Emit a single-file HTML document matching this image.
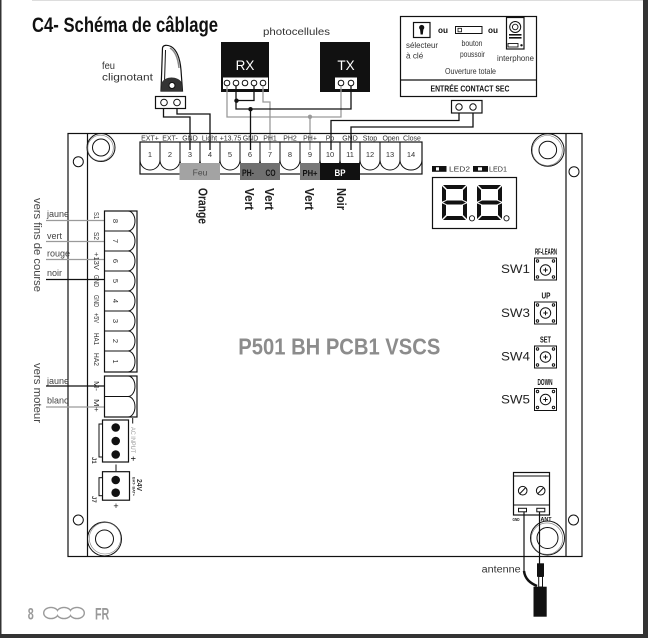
<!DOCTYPE html>
<html><head><meta charset="utf-8"><style>
html,body{margin:0;padding:0;background:#fff;}
svg{display:block;}
text{font-family:"Liberation Sans",sans-serif;}
</style></head><body>
<svg width="648" height="638" viewBox="0 0 648 638" xmlns="http://www.w3.org/2000/svg">
<rect width="648" height="638" fill="#fff"/>
<!-- frame -->
<line x1="32" y1="0.5" x2="643" y2="0.5" stroke="#ddd" stroke-width="1"/>
<rect x="0" y="0" width="1.5" height="638" fill="#333"/>
<rect x="643" y="0" width="5" height="638" fill="#333"/>
<rect x="0" y="634" width="648" height="4" fill="#333"/>

<!-- title -->
<text x="32" y="32" font-size="21" font-weight="bold" fill="#111" textLength="186" lengthAdjust="spacingAndGlyphs">C4- Schéma de câblage</text>

<!-- feu clignotant -->
<text x="102" y="69" font-size="10.5" fill="#333" textLength="13" lengthAdjust="spacingAndGlyphs">feu</text>
<text x="102" y="80.5" font-size="10.5" fill="#333" textLength="51" lengthAdjust="spacingAndGlyphs">clignotant</text>
<path d="M161,91 L162.5,48 C163,45 167,44.5 171,46.5 C177,50 180,58 181,70 L182.5,91 Z" fill="#fff" stroke="#111" stroke-width="1.2"/>
<path d="M165.5,50 L164.5,82" stroke="#111" stroke-width="1" fill="none"/>
<path d="M170,48 C175,51 178,58 179,68" stroke="#888" stroke-width="1.5" fill="none"/>
<path d="M162,82 C166,76 177,76 181.5,82 L182.5,91 L161,91 Z" fill="#333"/>
<circle cx="172" cy="85.5" r="3" fill="#fff" stroke="#111" stroke-width="1"/>
<rect x="155.5" y="96.5" width="30" height="12" fill="#fff" stroke="#111" stroke-width="1.2"/>
<circle cx="164" cy="102.5" r="3.3" fill="#fff" stroke="#111" stroke-width="1"/>
<circle cx="177" cy="102.5" r="3.3" fill="#fff" stroke="#111" stroke-width="1"/>

<!-- photocellules -->
<text x="296.5" y="35" font-size="10.5" fill="#333" text-anchor="middle" textLength="67" lengthAdjust="spacingAndGlyphs">photocellules</text>
<rect x="221" y="42" width="48" height="50" fill="#111"/>
<text x="245" y="70" font-size="13.5" fill="#fff" text-anchor="middle">RX</text>
<rect x="223" y="77.5" width="45" height="11.5" fill="#fff"/>
<g fill="#fff" stroke="#111" stroke-width="1">
<circle cx="227" cy="83" r="2.8"/><circle cx="236" cy="83" r="2.8"/><circle cx="245" cy="83" r="2.8"/><circle cx="254" cy="83" r="2.8"/><circle cx="263" cy="83" r="2.8"/>
</g>
<rect x="320" y="42" width="50" height="50" fill="#111"/>
<text x="346" y="70" font-size="13.5" fill="#fff" text-anchor="middle">TX</text>
<rect x="335" y="77.5" width="22" height="11.5" fill="#fff"/>
<g fill="#fff" stroke="#111" stroke-width="1">
<circle cx="341" cy="83" r="2.8"/><circle cx="351" cy="83" r="2.8"/>
</g>

<!-- right contact box -->
<rect x="400.5" y="16.5" width="136" height="80" fill="#fff" stroke="#111" stroke-width="1.2"/>
<line x1="400.5" y1="80" x2="536.5" y2="80" stroke="#111" stroke-width="1.2"/>
<rect x="413.5" y="22.5" width="16.5" height="15" fill="#fff" stroke="#111" stroke-width="1.2"/>
<circle cx="421.7" cy="27.5" r="2.6" fill="#111"/>
<polygon points="420,29 423.4,29 422.8,34.5 420.6,34.5" fill="#111"/>
<text x="438" y="33" font-size="8.5" font-weight="bold" fill="#111" textLength="10" lengthAdjust="spacingAndGlyphs">ou</text>
<rect x="455.5" y="26.5" width="26.5" height="7" fill="#fff" stroke="#111" stroke-width="1"/>
<rect x="458" y="28.3" width="3.5" height="3.5" fill="#fff" stroke="#111" stroke-width="0.8"/>
<text x="488" y="33" font-size="8.5" font-weight="bold" fill="#111" textLength="10" lengthAdjust="spacingAndGlyphs">ou</text>
<rect x="506.5" y="17.5" width="17.5" height="31.5" fill="#fff" stroke="#111" stroke-width="1.2"/>
<circle cx="515.2" cy="27" r="5.5" fill="#fff" stroke="#111" stroke-width="1"/>
<circle cx="515.2" cy="27" r="2.8" fill="#fff" stroke="#111" stroke-width="0.9"/>
<rect x="509" y="34" width="12.5" height="1.6" fill="#111"/>
<rect x="509" y="37" width="12.5" height="1.6" fill="#111"/>
<rect x="508" y="43.5" width="10" height="3.5" fill="#fff" stroke="#111" stroke-width="0.9"/>
<circle cx="521.5" cy="45.3" r="1.2" fill="#111"/>
<g font-size="8.2" fill="#333">
<text x="406" y="48" textLength="32" lengthAdjust="spacingAndGlyphs">sélecteur</text>
<text x="406" y="58.5">à clé</text>
<text x="472" y="46" text-anchor="middle" textLength="21" lengthAdjust="spacingAndGlyphs">bouton</text>
<text x="472.5" y="57" text-anchor="middle" textLength="25" lengthAdjust="spacingAndGlyphs">poussoir</text>
<text x="497" y="61" textLength="37" lengthAdjust="spacingAndGlyphs">interphone</text>
<text x="470.5" y="74" text-anchor="middle" textLength="51" lengthAdjust="spacingAndGlyphs">Ouverture totale</text>
</g>
<text x="470" y="91.7" font-size="8.5" font-weight="bold" fill="#111" text-anchor="middle" textLength="79" lengthAdjust="spacingAndGlyphs">ENTRÉE CONTACT SEC</text>
<rect x="451.5" y="100.5" width="30.5" height="12.5" fill="#fff" stroke="#111" stroke-width="1.2"/>
<circle cx="459" cy="107" r="3.2" fill="#fff" stroke="#111" stroke-width="1"/>
<circle cx="473" cy="107" r="3.2" fill="#fff" stroke="#111" stroke-width="1"/>

<!-- wires -->
<g fill="none" stroke-width="1.3">
<path d="M163.5,108.5 V117 H190 V150" stroke="#111"/>
<path d="M177,108.5 V114 H210 V150" stroke="#111"/>
<path d="M227,86 V117 H341 V86" stroke="#9a9a9a"/>
<path d="M310,117 V150" stroke="#9a9a9a"/>
<path d="M263,86 V102 H270 V150" stroke="#9a9a9a"/>
<path d="M236,86 V109 H351 V86" stroke="#111"/>
<path d="M236,100.5 H254 V86" stroke="#111"/>
<path d="M250.5,109 V150" stroke="#111"/>
<path d="M459,113 V120.5 H331 V150" stroke="#111"/>
<path d="M473,113 V127 H351 V150" stroke="#111"/>
</g>
<circle cx="236.5" cy="100.7" r="2.2" fill="#111"/>
<circle cx="250.5" cy="109.2" r="2.2" fill="#111"/>
<circle cx="310" cy="116.8" r="2.2" fill="#9a9a9a"/>

<!-- board outline -->
<g fill="none" stroke="#111" stroke-width="1.2">
<rect x="68" y="133.5" width="514" height="423"/>
<line x1="87.5" y1="133.5" x2="87.5" y2="556.5"/>
<line x1="566" y1="133.5" x2="566" y2="556.5"/>
</g>
<g fill="#fff" stroke="#111" stroke-width="1">
<circle cx="78.3" cy="161.7" r="5"/>
<circle cx="574" cy="171.7" r="5"/>
<circle cx="78.3" cy="520" r="5"/>
<circle cx="573.5" cy="520" r="5"/>
</g>
<g fill="none" stroke="#111" stroke-width="1">
<circle cx="101" cy="147.5" r="14"/><circle cx="100.5" cy="148" r="12.8" stroke="#777" stroke-width="0.6"/><circle cx="101" cy="147.5" r="8.5"/>
<circle cx="547.8" cy="150" r="16.3"/><circle cx="547.3" cy="150.5" r="15" stroke="#777" stroke-width="0.6"/><circle cx="547.8" cy="150" r="8.8"/>
<circle cx="104.5" cy="539" r="17"/><circle cx="105" cy="538.3" r="15.7" stroke="#777" stroke-width="0.6"/><circle cx="104.5" cy="539" r="9"/>
<circle cx="547.5" cy="538" r="17"/><circle cx="547" cy="538.6" r="15.7" stroke="#777" stroke-width="0.6"/><circle cx="547.5" cy="538" r="10.5"/>
</g>

<!-- top terminal block -->
<g font-size="7" fill="#333" text-anchor="middle">
<text x="150" y="140.5">EXT+</text><text x="170" y="140.5">EXT-</text><text x="190" y="140.5">GND</text><text x="209.5" y="140.5">Light</text><text x="230.5" y="140.5">+13.75</text><text x="250.5" y="140.5">GND</text><text x="270" y="140.5">PH1</text><text x="290" y="140.5">PH2</text><text x="310" y="140.5">PH+</text><text x="330" y="140.5">Pb</text><text x="350" y="140.5">GND</text><text x="370" y="140.5">Stop</text><text x="391" y="140.5">Open</text><text x="412" y="140.5">Close</text>
</g>
<rect x="140" y="142" width="282" height="32" fill="none" stroke="#111" stroke-width="1.2"/>
<g fill="none" stroke="#111" stroke-width="1">
<path d="M160,142 V160 M180,142 V160 M200,142 V160 M220,142 V160 M240,142 V160 M260,142 V160 M280,142 V160 M300,142 V160 M320,142 V160 M340,142 V160 M360,142 V160 M380,142 V160 M400,142 V160"/>
<path d="M140,160 A10,10 0 0 0 160,160 A10,10 0 0 0 180,160 A10,10 0 0 0 200,160 A10,10 0 0 0 220,160 A10,10 0 0 0 240,160 A10,10 0 0 0 260,160 A10,10 0 0 0 280,160 A10,10 0 0 0 300,160 A10,10 0 0 0 320,160 A10,10 0 0 0 340,160 A10,10 0 0 0 360,160 A10,10 0 0 0 380,160 A10,10 0 0 0 400,160 A11,10 0 0 0 422,160"/>
</g>
<g font-size="7.5" fill="#333" text-anchor="middle">
<text x="150" y="157">1</text><text x="170" y="157">2</text><text x="190" y="157">3</text><text x="210" y="157">4</text><text x="230" y="157">5</text><text x="250" y="157">6</text><text x="270" y="157">7</text><text x="290" y="157">8</text><text x="310" y="157">9</text><text x="330" y="157">10</text><text x="350" y="157">11</text><text x="370" y="157">12</text><text x="390" y="157">13</text><text x="411" y="157">14</text>
</g>
<rect x="179.5" y="163" width="40.5" height="17" fill="#a3a3a3"/>
<rect x="240" y="163" width="40" height="17" fill="#707070"/>
<rect x="300" y="163" width="20" height="17" fill="#777"/>
<rect x="320" y="163" width="40" height="17" fill="#111"/>
<text x="200" y="175.5" font-size="8.5" fill="#4a4a4a" text-anchor="middle">Feu</text>
<text x="248" y="176" font-size="9" font-weight="bold" fill="#111" text-anchor="middle" textLength="12" lengthAdjust="spacingAndGlyphs">PH-</text>
<text x="270.5" y="176" font-size="9" font-weight="bold" fill="#111" text-anchor="middle" textLength="10" lengthAdjust="spacingAndGlyphs">CO</text>
<text x="310" y="176" font-size="8.5" font-weight="bold" fill="#111" text-anchor="middle" textLength="15" lengthAdjust="spacingAndGlyphs">PH+</text>
<text x="340" y="176" font-size="9.5" font-weight="bold" fill="#fff" text-anchor="middle" textLength="11" lengthAdjust="spacingAndGlyphs">BP</text>

<!-- rotated color labels -->
<g font-size="12.5" font-weight="bold" fill="#222">
<text transform="translate(198.5,188) rotate(90)" textLength="36" lengthAdjust="spacingAndGlyphs">Orange</text>
<text transform="translate(245,188) rotate(90)" textLength="22" lengthAdjust="spacingAndGlyphs">Vert</text>
<text transform="translate(265,188) rotate(90)" textLength="22" lengthAdjust="spacingAndGlyphs">Vert</text>
<text transform="translate(305,188) rotate(90)" textLength="22" lengthAdjust="spacingAndGlyphs">Vert</text>
<text transform="translate(337,188) rotate(90)" textLength="22" lengthAdjust="spacingAndGlyphs">Noir</text>
</g>

<!-- left side texts -->
<g font-size="11" fill="#444">
<text transform="translate(34,198) rotate(90)" textLength="94" lengthAdjust="spacingAndGlyphs">vers fins de course</text>
<text transform="translate(34,363) rotate(90)" textLength="60" lengthAdjust="spacingAndGlyphs">vers moteur</text>
</g>
<g font-size="9" fill="#444">
<text x="47" y="217">jaune</text>
<text x="47" y="239">vert</text>
<text x="47" y="256.5">rouge</text>
<text x="47" y="276">noir</text>
<text x="47" y="384">jaune</text>
<text x="47" y="403.5">blanc</text>
</g>
<g fill="none" stroke-width="1.2">
<line x1="46" y1="220.5" x2="104" y2="220.5" stroke="#9a9a9a"/>
<line x1="46" y1="241.5" x2="104" y2="241.5" stroke="#9a9a9a"/>
<line x1="46" y1="259.5" x2="104" y2="259.5" stroke="#9a9a9a"/>
<line x1="46" y1="279.5" x2="104" y2="279.5" stroke="#111"/>
<line x1="46" y1="386" x2="104" y2="386" stroke="#111"/>
<line x1="46" y1="407" x2="104" y2="407" stroke="#9a9a9a"/>
</g>

<!-- left terminal block -->
<rect x="104.5" y="211" width="32.5" height="161" fill="none" stroke="#111" stroke-width="1.2"/>
<g fill="none" stroke="#111" stroke-width="1">
<path d="M104.5,231 H128 M104.5,251 H128 M104.5,271 H128 M104.5,291 H128 M104.5,311 H128 M104.5,331 H128 M104.5,351 H128"/>
<path d="M128,211 A7,10 0 0 1 128,231 A7,10 0 0 1 128,251 A7,10 0 0 1 128,271 A7,10 0 0 1 128,291 A7,10 0 0 1 128,311 A7,10 0 0 1 128,331 A7,10 0 0 1 128,351 A7,10.5 0 0 1 128,372"/>
</g>
<g font-size="7.5" fill="#333" text-anchor="middle">
<text transform="translate(113,221) rotate(90)">8</text>
<text transform="translate(113,241) rotate(90)">7</text>
<text transform="translate(113,261) rotate(90)">6</text>
<text transform="translate(113,281) rotate(90)">5</text>
<text transform="translate(113,301) rotate(90)">4</text>
<text transform="translate(113,321) rotate(90)">3</text>
<text transform="translate(113,341) rotate(90)">2</text>
<text transform="translate(113,361.5) rotate(90)">1</text>
</g>
<g font-size="7.2" fill="#333">
<text transform="translate(94,212) rotate(90)" textLength="7" lengthAdjust="spacingAndGlyphs">S1</text>
<text transform="translate(94,232) rotate(90)" textLength="8" lengthAdjust="spacingAndGlyphs">S2</text>
<text transform="translate(94,252) rotate(90)" textLength="18" lengthAdjust="spacingAndGlyphs">+13V</text>
<text transform="translate(94,275) rotate(90)" textLength="12" lengthAdjust="spacingAndGlyphs">GND</text>
<text transform="translate(94,295) rotate(90)" textLength="12" lengthAdjust="spacingAndGlyphs">GND</text>
<text transform="translate(94,313) rotate(90)" textLength="10" lengthAdjust="spacingAndGlyphs">+5V</text>
<text transform="translate(94,333) rotate(90)" textLength="12" lengthAdjust="spacingAndGlyphs">HA1</text>
<text transform="translate(94,353) rotate(90)" textLength="13" lengthAdjust="spacingAndGlyphs">HA2</text>
<text transform="translate(94,381) rotate(90)" textLength="10" lengthAdjust="spacingAndGlyphs">M-</text>
<text transform="translate(94,399) rotate(90)" textLength="13" lengthAdjust="spacingAndGlyphs">M+</text>
</g>
<!-- motor block -->
<rect x="104.5" y="376" width="32.5" height="41" fill="none" stroke="#111" stroke-width="1.2"/>
<g fill="none" stroke="#111" stroke-width="1">
<path d="M104.5,396.5 H128"/>
<path d="M128,376 A7,10.25 0 0 1 128,396.5 A7,10.25 0 0 1 128,417"/>
</g>

<!-- AC input -->
<rect x="102.5" y="420" width="26" height="42" fill="#fff" stroke="#111" stroke-width="1.2"/>
<rect x="99" y="424" width="3.5" height="33" fill="#fff" stroke="#111" stroke-width="1"/>
<circle cx="115.7" cy="427.5" r="4.3" fill="#111"/>
<circle cx="115.7" cy="441" r="4.3" fill="#111"/>
<circle cx="115.7" cy="454.5" r="4.3" fill="#111"/>
<line x1="132.7" y1="418" x2="132.7" y2="423.5" stroke="#111" stroke-width="1"/>
<text transform="translate(131,427) rotate(90)" font-size="6.5" fill="#999" textLength="26" lengthAdjust="spacingAndGlyphs">AC INPUT</text>
<text transform="translate(130,456) rotate(90)" font-size="9" fill="#111">+</text>
<text transform="translate(92,457) rotate(90)" font-size="6" font-weight="bold" fill="#333">J1</text>
<!-- 24V -->
<line x1="116" y1="464.5" x2="116" y2="471" stroke="#111" stroke-width="1"/>
<rect x="102.5" y="471.7" width="27" height="28.5" fill="#fff" stroke="#111" stroke-width="1.2"/>
<rect x="99" y="477.7" width="3.5" height="18" fill="#fff" stroke="#111" stroke-width="1"/>
<circle cx="115.7" cy="480" r="4.3" fill="#111"/>
<circle cx="115.7" cy="492.7" r="4.3" fill="#111"/>
<text x="116" y="509" font-size="9" fill="#111" text-anchor="middle">+</text>
<text transform="translate(92,496) rotate(90)" font-size="6" font-weight="bold" fill="#333">J7</text>
<text transform="translate(137,479) rotate(90)" font-size="7" font-weight="bold" fill="#333" textLength="12" lengthAdjust="spacingAndGlyphs">24V</text>
<text transform="translate(132.5,477) rotate(90)" font-size="3.5" font-weight="bold" fill="#333" textLength="19" lengthAdjust="spacingAndGlyphs">BAT- BAT+</text>

<!-- main label -->
<text x="238.3" y="354.3" font-size="23.5" font-weight="bold" fill="#8c8c8c" textLength="202" lengthAdjust="spacingAndGlyphs">P501 BH PCB1 VSCS</text>

<!-- LEDs and display -->
<rect x="432" y="166" width="14.5" height="5.8" fill="#111"/>
<rect x="436" y="167.3" width="3" height="3.2" fill="#fff"/>
<text x="449" y="171.5" font-size="7" fill="#333" textLength="21" lengthAdjust="spacingAndGlyphs">LED2</text>
<rect x="473" y="166" width="15" height="5.8" fill="#111"/>
<rect x="478" y="167.3" width="4" height="3.2" fill="#fff"/>
<text x="489" y="171.5" font-size="7" fill="#333" textLength="18" lengthAdjust="spacingAndGlyphs">LED1</text>
<rect x="432.5" y="177.5" width="84" height="51" fill="#fff" stroke="#111" stroke-width="1.2"/>
<g fill="#111">
<polygon points="443,185 466,185 462,189 447,189"/>
<polygon points="467,186 467,201.7 463,200 463,190"/>
<polygon points="467,203.3 467,219 463,215 463,205"/>
<polygon points="443,220 466,220 462,216 447,216"/>
<polygon points="442,203.3 446,205 446,215 442,219"/>
<polygon points="442,186 446,190 446,200 442,201.7"/>
<polygon points="443,202.5 447,200.5 462,200.5 466,202.5 462,204.5 447,204.5"/>
<polygon points="478,185 501,185 497,189 482,189"/>
<polygon points="502,186 502,201.7 498,200 498,190"/>
<polygon points="502,203.3 502,219 498,215 498,205"/>
<polygon points="478,220 501,220 497,216 482,216"/>
<polygon points="477,203.3 481,205 481,215 477,219"/>
<polygon points="477,186 481,190 481,200 477,201.7"/>
<polygon points="478,202.5 482,200.5 497,200.5 501,202.5 497,204.5 482,204.5"/>
</g>
<circle cx="472" cy="218.3" r="2.6" fill="#fff" stroke="#111" stroke-width="0.9"/>
<circle cx="506.5" cy="218.3" r="2.6" fill="#fff" stroke="#111" stroke-width="0.9"/>

<!-- buttons -->
<g font-size="8.5" font-weight="bold" fill="#111" text-anchor="middle">
<text x="546" y="254.3" textLength="22" lengthAdjust="spacingAndGlyphs">RF-LEARN</text>
<text x="546" y="298.3" textLength="9" lengthAdjust="spacingAndGlyphs">UP</text>
<text x="545.5" y="342.5" textLength="11" lengthAdjust="spacingAndGlyphs">SET</text>
<text x="545" y="385" textLength="15" lengthAdjust="spacingAndGlyphs">DOWN</text>
</g>
<g font-size="12" fill="#222">
<text x="501" y="273" textLength="29" lengthAdjust="spacingAndGlyphs">SW1</text>
<text x="501" y="317" textLength="29" lengthAdjust="spacingAndGlyphs">SW3</text>
<text x="501" y="360.5" textLength="29" lengthAdjust="spacingAndGlyphs">SW4</text>
<text x="501" y="403.5" textLength="29" lengthAdjust="spacingAndGlyphs">SW5</text>
</g>
<g fill="#fff" stroke="#111" stroke-width="1">
<rect x="534.5" y="258" width="22" height="22"/>
<circle cx="537.5" cy="261" r="1.2"/><circle cx="553.5" cy="261" r="1.2"/><circle cx="537.5" cy="277" r="1.2"/><circle cx="553.5" cy="277" r="1.2"/>
<circle cx="545.5" cy="270" r="5.2"/>
<rect x="534.5" y="302" width="22" height="22"/>
<circle cx="537.5" cy="305" r="1.2"/><circle cx="553.5" cy="305" r="1.2"/><circle cx="537.5" cy="321" r="1.2"/><circle cx="553.5" cy="321" r="1.2"/>
<circle cx="545.5" cy="313" r="5.2"/>
<rect x="534.5" y="346" width="22" height="22"/>
<circle cx="537.5" cy="349" r="1.2"/><circle cx="553.5" cy="349" r="1.2"/><circle cx="537.5" cy="365" r="1.2"/><circle cx="553.5" cy="365" r="1.2"/>
<circle cx="545.5" cy="357" r="5.2"/>
<rect x="534.5" y="388.5" width="22" height="22"/>
<circle cx="537.5" cy="391.5" r="1.2"/><circle cx="553.5" cy="391.5" r="1.2"/><circle cx="537.5" cy="407.5" r="1.2"/><circle cx="553.5" cy="407.5" r="1.2"/>
<circle cx="545.5" cy="399.5" r="5.2"/>
</g>
<g stroke="#111" stroke-width="1">
<path d="M543.3,270 H547.7 M545.5,267.8 V272.2"/>
<path d="M543.3,313 H547.7 M545.5,310.8 V315.2"/>
<path d="M543.3,357 H547.7 M545.5,354.8 V359.2"/>
<path d="M543.3,399.5 H547.7 M545.5,397.3 V401.7"/>
</g>

<!-- antenna block -->
<rect x="513.5" y="472.5" width="36" height="42.5" fill="#fff" stroke="#111" stroke-width="1.2"/>
<line x1="513.5" y1="476" x2="549.5" y2="476" stroke="#111" stroke-width="1"/>
<line x1="513.5" y1="505" x2="549.5" y2="505" stroke="#111" stroke-width="1"/>
<circle cx="522.7" cy="490.7" r="4.3" fill="#fff" stroke="#111" stroke-width="1"/>
<circle cx="540.7" cy="490.7" r="4.3" fill="#fff" stroke="#111" stroke-width="1"/>
<path d="M520,493.5 L525.4,487.9 M538,493.5 L543.4,487.9" stroke="#111" stroke-width="1"/>
<rect x="518.5" y="508.3" width="8" height="3.5" fill="#fff" stroke="#111" stroke-width="1"/>
<rect x="536.8" y="508.3" width="8" height="3.5" fill="#fff" stroke="#111" stroke-width="1"/>
<text x="512.5" y="521" font-size="4.5" font-weight="bold" fill="#111" textLength="7" lengthAdjust="spacingAndGlyphs">GND</text>
<text x="540.5" y="521" font-size="5" font-weight="bold" fill="#111" textLength="11" lengthAdjust="spacingAndGlyphs">ANT</text>
<line x1="524" y1="511.8" x2="524" y2="572" stroke="#111" stroke-width="1.2"/>
<line x1="539.5" y1="511.8" x2="539.5" y2="564" stroke="#111" stroke-width="1.2"/>
<text x="481.7" y="572.5" font-size="10" fill="#333" textLength="39" lengthAdjust="spacingAndGlyphs">antenne</text>
<rect x="537" y="563.3" width="7" height="13.5" fill="#111"/>
<rect x="538.7" y="576.5" width="3.8" height="10.5" fill="#fff" stroke="#111" stroke-width="1"/>
<path d="M524,571 C525,579 530,583 537,586" fill="none" stroke="#111" stroke-width="2.5"/>
<rect x="533.5" y="586.7" width="13.2" height="30" fill="#111"/>

<!-- footer -->
<text x="27.7" y="619.3" font-size="17" font-weight="bold" fill="#999" textLength="6" lengthAdjust="spacingAndGlyphs">8</text>
<g fill="#9a9a9a">
<ellipse cx="51" cy="613" rx="8" ry="6.3"/><ellipse cx="64" cy="613" rx="8" ry="6.3"/><ellipse cx="77" cy="613" rx="8" ry="6.3"/>
</g>
<g fill="#fff">
<ellipse cx="51" cy="613" rx="6.6" ry="4.9"/><ellipse cx="64" cy="613" rx="6.6" ry="4.9"/><ellipse cx="77" cy="613" rx="6.6" ry="4.9"/>
</g>
<text x="95" y="619.3" font-size="17" font-weight="bold" fill="#999" textLength="14.3" lengthAdjust="spacingAndGlyphs">FR</text>
</svg>
</body></html>
